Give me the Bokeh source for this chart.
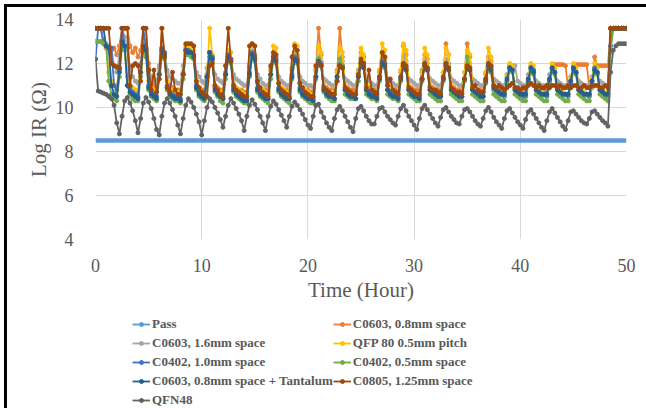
from bokeh.plotting import figure
from bokeh.layouts import column
from bokeh.models import Legend, LegendItem, FixedTicker
from bokeh.embed import file_html
from bokeh.resources import INLINE

# ---------------- data ----------------
hours = [
    0, 0.25, 0.5, 0.75, 1, 1.25, 1.5, 1.75, 2, 2.25, 2.5, 2.75, 3, 3.25, 3.5, 3.75, 4, 4.25, 4.5, 4.75,
    5, 5.25, 5.5, 5.75, 6, 6.25, 6.5, 6.75, 7, 7.25, 7.5, 7.75, 8, 8.25, 8.5, 8.75, 9, 9.25, 9.5, 9.75,
    10, 10.25, 10.5, 10.75, 11, 11.25, 11.5, 11.75, 12, 12.25, 12.5, 12.75, 13, 13.25, 13.5, 13.75, 14, 14.25, 14.5, 14.75,
    15, 15.25, 15.5, 15.75, 16, 16.25, 16.5, 16.75, 17, 17.25, 17.5, 17.75, 18, 18.25, 18.5, 18.75, 19, 19.25, 19.5, 19.75,
    20, 20.25, 20.5, 20.75, 21, 21.25, 21.5, 21.75, 22, 22.25, 22.5, 22.75, 23, 23.25, 23.5, 23.75, 24, 24.25, 24.5, 24.75,
    25, 25.25, 25.5, 25.75, 26, 26.25, 26.5, 26.75, 27, 27.25, 27.5, 27.75, 28, 28.25, 28.5, 28.75, 29, 29.25, 29.5, 29.75,
    30, 30.25, 30.5, 30.75, 31, 31.25, 31.5, 31.75, 32, 32.25, 32.5, 32.75, 33, 33.25, 33.5, 33.75, 34, 34.25, 34.5, 34.75,
    35, 35.25, 35.5, 35.75, 36, 36.25, 36.5, 36.75, 37, 37.25, 37.5, 37.75, 38, 38.25, 38.5, 38.75, 39, 39.25, 39.5, 39.75,
    40, 40.25, 40.5, 40.75, 41, 41.25, 41.5, 41.75, 42, 42.25, 42.5, 42.75, 43, 43.25, 43.5, 43.75, 44, 44.25, 44.5, 44.75,
    45, 45.25, 45.5, 45.75, 46, 46.25, 46.5, 46.75, 47, 47.25, 47.5, 47.75, 48, 48.25, 48.5, 48.75, 49, 49.25, 49.5, 49.75,
    50,
]

pass_hours = [0, 50]
pass_ir = [8.5, 8.5]

c0603_08mm = [
    13.6, 13.6,
    13.6, 12.9, 12.7, 12.5, 12.6, 12.7, 12.4, 12.8,
    13.6, 13.6, 13.6, 12.8, 12.5, 12.7, 12.3, 12.6,
    13.6, 13.6, 12.0, 11.2, 11.0, 10.9, 11.8,
    13.6, 12.5, 11.2, 11.0, 10.9, 10.8, 10.8, 10.8, 11.6,
    12.5, 12.4, 12.4, 12.2, 11.1, 10.9, 10.8, 10.8, 11.5,
    12.3, 12.2, 11.0, 10.9, 10.8, 10.8, 11.6,
    12.3, 12.2, 11.1, 10.9, 10.8, 10.8, 10.7, 10.7, 11.8,
    12.5, 12.4, 11.1, 10.9, 10.8, 10.8, 10.7, 11.7,
    12.4, 12.3, 11.1, 10.9, 10.8, 10.8, 10.7, 11.7,
    12.5, 12.4, 11.1, 10.9, 10.8, 10.8, 10.7, 10.7, 11.7,
    13.6, 12.4, 11.0, 10.9, 10.8, 10.8, 10.7, 11.6,
    13.6, 12.3, 11.0, 10.9, 10.8, 10.8, 10.7, 11.6,
    12.5, 12.3, 11.0, 10.9, 10.8, 10.8, 10.7, 11.6,
    12.5, 12.3, 11.0, 10.9, 10.8, 10.8, 10.7, 11.6,
    12.8, 12.4, 11.0, 10.9, 10.8, 10.8, 10.7, 11.6,
    12.4, 12.2, 11.0, 10.9, 10.8, 10.8, 10.7, 11.6,
    12.9, 12.4, 11.0, 10.9, 10.8, 10.8, 10.7, 11.6,
    12.9, 12.3, 11.0, 10.9, 10.8, 10.8, 10.7, 11.5,
    12.3, 12.1, 11.0, 10.9, 10.8, 10.8, 10.7, 11.4,
    11.9, 11.7, 10.9, 10.9, 10.8, 10.8, 10.8, 11.3,
    11.9, 11.7, 10.9, 10.9, 10.8, 10.8, 10.8, 10.9,
    11.95, 11.95, 11.95, 11.95, 11.95, 11.9, 10.9, 10.9,
    11.95, 11.95, 11.95, 11.95, 11.95, 11.95, 10.9, 10.9,
    12.3, 11.9, 11.9, 11.9, 11.9, 11.9,
    13.6, 13.6, 13.6, 13.6, 13.6, 13.6, 13.6,
]

c0603_16mm = [
    13.6, 13.6,
    13.6, 12.9, 12.9, 12.8, 12.7, 11.9, 11.6, 12.4,
    13.6, 13.2, 12.8, 11.8, 11.4, 11.2, 11.1, 12.0,
    12.9, 12.7, 11.8, 11.4, 11.2, 11.1, 11.9,
    12.7, 12.5, 11.7, 11.4, 11.3, 11.2, 11.1, 11.1, 11.9,
    12.7, 12.6, 12.6, 12.4, 11.6, 11.4, 11.2, 11.1, 11.8,
    12.5, 12.3, 11.5, 11.3, 11.2, 11.1, 11.9,
    12.4, 12.2, 11.5, 11.3, 11.2, 11.1, 11.0, 11.0, 11.9,
    12.6, 12.4, 11.5, 11.3, 11.1, 11.0, 11.0, 11.8,
    12.4, 12.3, 11.4, 11.2, 11.1, 11.0, 11.0, 11.8,
    12.5, 12.3, 11.4, 11.2, 11.1, 11.0, 11.0, 10.9, 11.8,
    12.3, 12.1, 11.3, 11.2, 11.1, 11.0, 11.0, 11.7,
    12.3, 12.1, 11.3, 11.2, 11.1, 11.0, 11.0, 11.7,
    12.3, 12.1, 11.3, 11.2, 11.1, 11.0, 11.0, 11.7,
    12.4, 12.2, 11.3, 11.2, 11.1, 11.0, 11.0, 11.7,
    12.3, 12.1, 11.3, 11.2, 11.1, 11.0, 11.0, 11.7,
    12.2, 12.0, 11.3, 11.2, 11.1, 11.0, 11.0, 11.6,
    12.2, 12.0, 11.3, 11.2, 11.1, 11.0, 11.0, 11.6,
    12.2, 12.0, 11.3, 11.2, 11.1, 11.0, 11.0, 11.6,
    12.1, 11.9, 11.3, 11.2, 11.1, 11.0, 11.0, 11.5,
    11.9, 11.9, 11.9, 11.2, 11.1, 11.0, 11.0, 11.5,
    11.8, 11.6, 11.2, 11.1, 11.0, 11.0, 11.0, 11.5,
    11.8, 11.6, 11.2, 11.1, 11.0, 11.0, 11.0, 11.4,
    11.8, 11.6, 11.2, 11.1, 11.0, 11.0, 11.0, 11.4,
    11.8, 11.5, 11.2, 11.1, 11.0, 11.0,
    13.6, 13.6, 13.6, 13.6, 13.6, 13.6, 13.6,
]

qfp80_05mm = [
    13.0, 13.0,
    13.0, 12.9, 12.8, 11.6, 11.2, 11.0, 10.9, 11.8,
    12.8, 12.7, 11.4, 11.0, 10.9, 10.8, 10.8, 11.8,
    12.9, 12.6, 11.2, 10.9, 10.8, 10.7, 11.6,
    12.5, 12.4, 11.2, 10.9, 10.8, 10.7, 10.7, 10.6, 11.6,
    12.8, 12.7, 12.7, 12.6, 11.1, 10.9, 10.7, 10.6, 11.5,
    13.6, 12.4, 11.0, 10.8, 10.7, 10.6, 11.5,
    12.6, 12.5, 11.1, 10.9, 10.8, 10.7, 10.6, 10.6, 12.0,
    12.9, 12.8, 11.2, 10.9, 10.8, 10.7, 10.6, 11.7,
    12.8, 12.7, 11.1, 10.9, 10.8, 10.7, 10.6, 11.8,
    12.9, 12.8, 11.1, 10.9, 10.8, 10.7, 10.6, 10.6, 11.7,
    12.8, 12.5, 11.0, 10.8, 10.7, 10.7, 10.6, 11.6,
    12.7, 12.5, 11.0, 10.8, 10.7, 10.6, 10.6, 11.6,
    12.7, 12.4, 11.0, 10.8, 10.7, 10.6, 10.6, 11.7,
    12.9, 12.6, 11.0, 10.8, 10.7, 10.6, 10.6, 11.7,
    12.9, 12.6, 11.0, 10.8, 10.7, 10.6, 10.6, 11.6,
    12.7, 12.4, 11.0, 10.8, 10.7, 10.6, 10.6, 11.6,
    12.7, 12.4, 11.0, 10.8, 10.7, 10.6, 10.6, 11.6,
    12.6, 12.4, 11.0, 10.8, 10.7, 10.6, 10.6, 11.6,
    12.7, 12.3, 11.0, 10.8, 10.7, 10.6, 10.6, 11.4,
    12.0, 11.9, 10.9, 10.8, 10.7, 10.6, 10.6, 11.3,
    12.0, 11.9, 10.9, 10.8, 10.7, 10.6, 10.6, 11.3,
    12.0, 11.8, 10.9, 10.8, 10.7, 10.6, 10.6, 11.3,
    12.0, 11.8, 10.9, 10.8, 10.7, 10.6, 10.6, 11.3,
    12.0, 11.8, 10.9, 10.8, 10.7, 10.6,
    13.6, 13.6, 13.6, 13.6, 13.6, 13.6, 13.6,
]

c0402_10mm = [
    12.2, 13.6,
    13.6, 13.0, 12.8, 12.7, 12.7, 11.0, 10.8, 11.7,
    13.6, 12.8, 12.7, 10.9, 10.7, 10.6, 10.5, 11.6,
    13.6, 12.7, 11.0, 10.7, 10.6, 10.5, 11.5,
    12.7, 12.5, 11.0, 10.7, 10.6, 10.5, 10.5, 10.4, 11.5,
    12.6, 12.6, 12.5, 12.4, 11.0, 10.7, 10.6, 10.5, 11.4,
    12.5, 12.3, 10.9, 10.7, 10.5, 10.4, 11.5,
    12.4, 12.2, 10.9, 10.7, 10.6, 10.5, 10.4, 10.4, 11.6,
    12.5, 12.3, 10.9, 10.7, 10.6, 10.5, 10.4, 11.5,
    12.3, 12.2, 10.9, 10.7, 10.6, 10.5, 10.4, 11.5,
    12.3, 12.2, 10.9, 10.7, 10.6, 10.5, 10.4, 10.4, 11.4,
    12.2, 12.0, 10.8, 10.7, 10.6, 10.5, 10.4, 11.4,
    12.0, 11.9, 10.8, 10.7, 10.6, 10.5, 10.4, 11.4,
    12.1, 11.9, 10.8, 10.7, 10.6, 10.5, 10.5, 11.4,
    12.1, 12.0, 10.8, 10.7, 10.6, 10.5, 10.5, 11.4,
    11.9, 11.8, 10.8, 10.7, 10.6, 10.5, 10.5, 11.3,
    12.0, 11.8, 10.8, 10.7, 10.6, 10.5, 10.5, 11.3,
    12.0, 11.8, 10.8, 10.7, 10.6, 10.5, 10.5, 11.3,
    11.8, 11.7, 10.8, 10.7, 10.6, 10.5, 10.5, 11.3,
    11.9, 11.8, 10.8, 10.7, 10.6, 10.6, 10.5, 11.2,
    11.8, 11.7, 10.8, 10.7, 10.6, 10.5, 10.5, 11.2,
    11.8, 11.7, 10.8, 10.7, 10.6, 10.6, 10.5, 11.2,
    11.8, 11.6, 10.8, 10.7, 10.6, 10.6, 10.5, 11.2,
    11.8, 11.6, 10.8, 10.7, 10.6, 10.6, 10.5, 11.2,
    11.8, 11.6, 10.8, 10.7, 10.6, 10.5,
    12.8, 13.6, 13.6, 13.6, 13.6, 13.6, 13.6,
]

c0402_05mm = [
    13.0, 13.0,
    13.0, 12.9, 12.8, 11.2, 10.6, 10.4, 10.3, 11.4,
    12.8, 12.6, 11.0, 10.6, 10.4, 10.3, 10.3, 11.4,
    12.6, 12.3, 10.8, 10.5, 10.4, 10.3, 11.3,
    12.3, 12.2, 10.8, 10.5, 10.4, 10.3, 10.3, 10.2, 11.3,
    12.4, 12.4, 12.3, 12.2, 10.8, 10.5, 10.4, 10.3, 11.2,
    12.3, 12.1, 10.7, 10.5, 10.3, 10.2, 11.3,
    12.2, 12.0, 10.7, 10.5, 10.4, 10.3, 10.2, 10.2, 11.4,
    12.3, 12.1, 10.7, 10.5, 10.4, 10.3, 10.2, 11.3,
    12.2, 12.0, 10.7, 10.5, 10.4, 10.3, 10.2, 11.3,
    12.2, 12.0, 10.7, 10.5, 10.4, 10.3, 10.2, 10.2, 11.3,
    12.2, 11.9, 10.7, 10.5, 10.4, 10.3, 10.3, 11.2,
    12.2, 11.9, 10.6, 10.5, 10.4, 10.4, 10.4, 11.2,
    12.0, 11.8, 10.6, 10.5, 10.4, 10.4, 10.3, 11.2,
    12.0, 11.8, 10.6, 10.5, 10.4, 10.4, 10.3, 11.2,
    12.0, 11.8, 10.6, 10.5, 10.4, 10.3, 10.3, 11.2,
    11.9, 11.7, 10.6, 10.5, 10.4, 10.3, 10.3, 11.2,
    11.9, 11.7, 10.6, 10.5, 10.4, 10.3, 10.3, 11.2,
    12.3, 11.8, 10.6, 10.5, 10.4, 10.3, 10.3, 11.1,
    11.8, 11.6, 10.6, 10.5, 10.4, 10.3, 10.3, 11.1,
    11.8, 11.6, 10.6, 10.5, 10.4, 10.3, 10.3, 11.1,
    11.7, 11.5, 10.6, 10.5, 10.4, 10.3, 10.3, 11.1,
    11.7, 11.5, 10.6, 10.5, 10.4, 10.3, 10.3, 11.0,
    11.7, 11.5, 10.6, 10.5, 10.4, 10.3, 10.3, 11.0,
    11.7, 11.5, 10.6, 10.5, 10.4, 10.3,
    12.5, 13.6, 13.6, 13.6, 13.6, 13.6, 13.6,
]

c0603_08mm_tantalum = [
    13.6, 13.6,
    13.6, 13.6, 12.8, 12.7, 11.0, 10.6, 10.5, 11.6,
    13.0, 12.8, 11.0, 10.7, 10.6, 10.5, 10.4, 11.6,
    12.8, 12.6, 10.9, 10.6, 10.5, 10.4, 11.5,
    12.6, 12.4, 10.9, 10.6, 10.5, 10.4, 10.4, 10.3, 11.5,
    12.6, 12.5, 12.5, 12.3, 10.9, 10.6, 10.5, 10.4, 11.4,
    12.5, 12.2, 10.8, 10.6, 10.5, 10.4, 11.5,
    12.3, 12.1, 10.8, 10.6, 10.5, 10.4, 10.3, 10.3, 11.5,
    12.4, 12.2, 10.8, 10.6, 10.5, 10.4, 10.4, 11.5,
    12.3, 12.1, 10.8, 10.6, 10.5, 10.4, 10.4, 11.4,
    12.2, 12.1, 10.8, 10.6, 10.5, 10.4, 10.4, 10.3, 11.4,
    12.1, 11.9, 10.8, 10.6, 10.5, 10.5, 10.4, 11.4,
    11.9, 11.8, 10.8, 10.6, 10.5, 10.5, 10.4, 11.4,
    12.0, 11.8, 10.8, 10.6, 10.5, 10.5, 10.4, 11.3,
    12.0, 11.9, 10.8, 10.6, 10.5, 10.5, 10.4, 11.3,
    11.9, 11.7, 10.8, 10.6, 10.5, 10.5, 10.4, 11.3,
    11.9, 11.7, 10.8, 10.7, 10.6, 10.5, 10.5, 11.3,
    11.9, 11.7, 10.8, 10.7, 10.6, 10.5, 10.5, 11.3,
    11.8, 11.7, 10.8, 10.7, 10.6, 10.5, 10.5, 11.2,
    11.9, 11.7, 10.9, 10.8, 10.7, 10.6, 10.6, 11.3,
    11.8, 11.7, 10.8, 10.7, 10.6, 10.6, 10.6, 11.3,
    11.8, 11.6, 10.8, 10.7, 10.6, 10.6, 10.6, 11.3,
    11.8, 11.6, 10.8, 10.7, 10.6, 10.6, 10.6, 11.2,
    11.8, 11.6, 10.8, 10.7, 10.6, 10.6, 10.6, 11.2,
    11.7, 11.6, 10.8, 10.7, 10.6, 10.6,
    13.6, 13.6, 13.6, 13.6, 13.6, 13.6, 13.6,
]

c0805_125mm = [
    13.6, 13.6,
    13.6, 13.6, 13.6, 13.6, 12.0, 11.9, 11.85, 11.8,
    13.6, 13.6, 13.6, 11.0, 11.9, 12.0, 11.9, 11.2,
    13.6, 13.6, 11.7, 10.8, 11.7, 10.7, 11.3,
    13.6, 12.3, 10.9, 10.7, 11.6, 10.8, 10.6, 10.6, 11.5,
    12.9, 12.9, 12.9, 12.8, 11.2, 10.9, 10.7, 10.6, 10.5,
    11.9, 12.0, 11.0, 10.8, 10.6, 10.5, 11.9,
    13.6, 12.1, 11.0, 10.8, 10.7, 10.6, 10.5, 10.5, 12.8,
    12.9, 12.8, 11.2, 10.9, 10.7, 10.6, 10.5, 11.9,
    12.5, 12.4, 11.1, 10.8, 10.7, 10.6, 10.5, 12.3,
    12.8, 12.6, 11.1, 10.9, 10.7, 10.6, 10.5, 10.5, 11.9,
    12.0, 11.9, 10.9, 10.8, 10.7, 10.6, 10.6, 11.2,
    11.9, 11.8, 10.9, 10.8, 10.7, 10.6, 10.6, 11.5,
    12.2, 12.0, 10.9, 11.7, 10.8, 10.7, 10.6, 11.4,
    12.5, 12.3, 11.0, 11.3, 10.8, 10.7, 10.6, 11.4,
    12.0, 11.9, 10.9, 10.8, 10.7, 10.6, 10.6, 11.3,
    12.0, 11.8, 10.9, 10.8, 10.8, 10.7, 10.6, 11.4,
    12.0, 11.8, 10.9, 10.8, 10.7, 10.7, 10.6, 11.3,
    11.9, 11.8, 10.9, 11.0, 10.8, 10.7, 10.7, 11.3,
    12.0, 11.9, 11.0, 10.9, 11.0, 10.9, 10.8, 10.9,
    11.0, 11.1, 10.9, 10.9, 10.8, 10.9, 10.9, 11.0,
    11.1, 11.0, 10.9, 11.0, 10.9, 10.9, 11.0, 10.9,
    11.0, 11.0, 10.9, 11.0, 10.9, 10.9, 11.0, 10.9,
    11.0, 11.0, 10.9, 10.9, 11.0, 10.9, 10.9, 11.0,
    11.0, 11.0, 10.9, 10.9, 11.0, 10.9,
    13.6, 13.6, 13.6, 13.6, 13.6, 13.6, 13.6,
]

qfn48 = [
    12.2, 10.75,
    10.7, 10.65, 10.6, 10.5, 10.4, 10.1, 9.3, 8.8,
    9.6, 10.3, 10.45, 10.2, 9.85, 9.4, 8.85, 9.5,
    10.2, 10.45, 10.25, 9.95, 9.5, 9.0, 8.75,
    9.6, 10.2, 10.4, 10.2, 9.9, 9.6, 9.2, 8.8, 9.5,
    10.1, 10.4, 10.25, 10.0, 9.7, 9.35, 8.75, 9.4, 10.0,
    10.4, 10.25, 10.0, 9.75, 9.45, 9.1, 9.6,
    10.1, 10.4, 10.2, 9.95, 9.7, 9.4, 8.95, 9.6, 10.1,
    10.35, 10.15, 9.9, 9.6, 9.3, 8.95, 9.6, 10.05,
    10.3, 10.15, 9.9, 9.65, 9.4, 9.1, 9.6, 10.05,
    10.25, 10.1, 9.9, 9.7, 9.45, 9.2, 9.05, 9.6, 10.1,
    10.15, 9.8, 9.55, 9.3, 9.1, 8.95, 9.5, 9.9,
    10.05, 9.85, 9.6, 9.35, 9.1, 8.9, 9.5, 9.95,
    10.05, 9.85, 9.6, 9.4, 9.25, 9.25, 9.6, 9.95,
    10.0, 9.8, 9.6, 9.45, 9.3, 9.2, 9.6, 9.95,
    10.1, 9.85, 9.6, 9.4, 9.2, 9.0, 9.5, 9.95,
    10.1, 9.9, 9.7, 9.5, 9.3, 9.15, 9.55, 9.9,
    10.0, 9.8, 9.6, 9.45, 9.3, 9.25, 9.6, 9.9,
    9.95, 9.8, 9.6, 9.4, 9.25, 9.15, 9.5, 9.85,
    10.0, 9.8, 9.55, 9.35, 9.2, 9.05, 9.5, 9.85,
    9.95, 9.75, 9.55, 9.35, 9.2, 9.05, 9.45, 9.8,
    9.9, 9.7, 9.5, 9.3, 9.1, 8.95, 9.4, 9.8,
    9.95, 9.75, 9.55, 9.35, 9.15, 9.0, 9.4, 9.8,
    9.85, 9.7, 9.55, 9.4, 9.3, 9.25, 9.5, 9.8,
    9.85, 9.7, 9.55, 9.4, 9.3, 9.15,
    11.6, 12.6, 12.8, 12.9, 12.9, 12.9, 12.9,
]

series_labels = [
    "Pass", "C0603, 0.8mm space", "C0603, 1.6mm space", "QFP 80 0.5mm pitch",
    "C0402, 1.0mm space", "C0402, 0.5mm space", "C0603, 0.8mm space + Tantalum",
    "C0805, 1.25mm space", "QFN48",
]
series_colors = [
    "#5B9BD5", "#ED7D31", "#A5A5A5", "#FFC000", "#4472C4",
    "#70AD47", "#255E91", "#9E480E", "#636363",
]
x_ticks = [0, 10, 20, 30, 40, 50]
y_ticks = [4, 6, 8, 10, 12, 14]

series_values = [c0603_08mm, c0603_16mm, qfp80_05mm, c0402_10mm,
                 c0402_05mm, c0603_08mm_tantalum, c0805_125mm, qfn48]
for vals in series_values:
    assert len(vals) == len(hours), len(vals)

SERIF = "Liberation Serif"
TXT = "#595959"

# ---------------- main chart ----------------
p = figure(
    width=639, height=300,
    x_range=(0, 50), y_range=(4, 14),
    output_backend="svg", toolbar_location=None,
    min_border_left=88, min_border_right=20, min_border_top=12, min_border_bottom=68,
    outline_line_color=None,
)

for ax in (p.xaxis[0], p.yaxis[0]):
    ax.axis_line_color = None
    ax.major_tick_line_color = None
    ax.minor_tick_line_color = None
    ax.major_label_text_font = SERIF
    ax.major_label_text_font_size = "18px"
    ax.major_label_text_color = TXT
    ax.axis_label_text_font = SERIF
    ax.axis_label_text_font_size = "21px"
    ax.axis_label_text_font_style = "normal"
    ax.axis_label_text_color = TXT

p.xaxis.ticker = FixedTicker(ticks=x_ticks)
p.yaxis.ticker = FixedTicker(ticks=y_ticks)
p.xaxis.axis_label = "Time (Hour)"
p.yaxis.axis_label = "Log IR (\u03a9)"
p.xaxis.major_label_standoff = 13
p.xaxis.axis_label_standoff = 3
p.yaxis.major_label_standoff = 16
p.yaxis.axis_label_standoff = 2

p.xgrid.ticker = FixedTicker(ticks=x_ticks)
p.ygrid.ticker = FixedTicker(ticks=y_ticks)
p.xgrid.grid_line_color = "#D9D9D9"
p.ygrid.grid_line_color = "#D9D9D9"

# Pass: thick flat line
p.line(pass_hours, pass_ir, line_color=series_colors[0], line_width=4.5)
for vals, col in zip(series_values, series_colors[1:]):
    p.line(hours, vals, line_color=col, line_width=1.8)
    p.scatter(hours, vals, marker="circle", size=4, fill_color=col, line_color=col)

# ---------------- legend panel ----------------
# (legend swatches reuse the Pass data, which lies outside this panel's ranges)
q = figure(
    width=639, height=101, output_backend="svg", toolbar_location=None,
    x_axis_location=None, y_axis_location=None, outline_line_color=None,
    min_border_left=0, min_border_right=0, min_border_top=0, min_border_bottom=0,
    x_range=(-3, -2), y_range=(-3, -2),
)
q.grid.visible = False

items = []
for name, col in zip(series_labels, series_colors):
    rl = q.line(pass_hours, pass_ir, line_color=col, line_width=1.8)
    rs = q.scatter(pass_hours, pass_ir, marker="circle", size=4,
                   fill_color=col, line_color=col)
    items.append(LegendItem(label=name, renderers=[rl, rs]))

legend = Legend(
    items=items, location=(37, -1.5), orientation="horizontal", ncols=2,
    label_text_font=SERIF, label_text_font_size="13px", label_text_font_style="bold",
    label_text_color=TXT, glyph_width=18, glyph_height=10, label_height=19,
    label_standoff=2, spacing=0, padding=0, margin=0,
    border_line_color=None, background_fill_alpha=0,
)
q.add_layout(legend)

page = column(
    p, q, spacing=0,
    styles={"border-top": "3px solid #000000", "border-left": "3px solid #000000",
            "margin-top": "4px", "margin-left": "4px"},
)

open("out.html", "w").write(file_html(page, INLINE))
